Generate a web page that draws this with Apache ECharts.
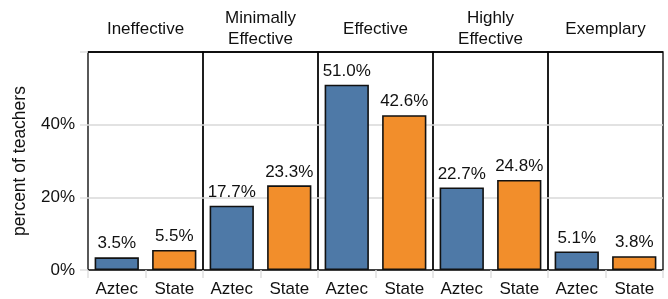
<!DOCTYPE html>
<html><head><meta charset="utf-8">
<script src="https://cdn.jsdelivr.net/npm/echarts@6/dist/echarts.min.js"></script>
<style>html,body{margin:0;padding:0;background:#fff}#c{width:668px;height:299px}</style>
</head><body><div id="c"></div>
<script>
const facets = ['Ineffective', 'Minimally\nEffective', 'Effective', 'Highly\nEffective', 'Exemplary'];
const groups = ['Aztec', 'State'];
const aztec = [3.5, 17.7, 51.0, 22.7, 5.1];
const state = [5.5, 23.3, 42.6, 24.8, 3.8];
const yTicks = [0, 20, 40, 60];
const yLabels = ['0%', '20%', '40%', ''];

const FONT = 'Liberation Sans';
const FS = 17;
const colors = ['#4E79A7', '#F28E2B'];
const left0 = 88, right0 = 663, top0 = 52, bottom0 = 270;
const fw = (right0 - left0) / facets.length;
const yMax = yTicks[yTicks.length - 1];

const grids = [], xAxes = [], yAxes = [], series = [], graphics = [];
facets.forEach((f, i) => {
  grids.push({left: left0 + i * fw, width: fw, top: top0, height: bottom0 - top0,
    show: true, borderColor: '#000', borderWidth: 1.3, backgroundColor: 'transparent'});
  xAxes.push({type: 'category', gridIndex: i, data: groups,
    axisLine: {show: false},
    axisTick: {show: true, length: 8, lineStyle: {color: '#e0e0e0', width: 1.5}},
    axisLabel: {color: '#111', fontFamily: FONT, fontSize: FS, margin: 11}});
  yAxes.push({type: 'value', gridIndex: i, min: 0, max: yMax, interval: 20,
    axisLine: {show: false},
    axisTick: {show: i === 0, length: 8, lineStyle: {color: '#e0e0e0', width: 1.5}},
    axisLabel: {show: i === 0, color: '#111', fontFamily: FONT, fontSize: FS, margin: 13,
      formatter: v => yLabels[yTicks.indexOf(v)] || ''},
    splitLine: {show: true, showMinLine: false, showMaxLine: false,
      lineStyle: {color: '#d9d9d9', width: 1.5}},
    name: i === 0 ? 'percent of teachers' : '', nameLocation: 'middle', nameGap: 59,
    nameTextStyle: {color: '#111', fontFamily: FONT, fontSize: 17.5}});
  series.push({type: 'bar', xAxisIndex: i, yAxisIndex: i, barWidth: '77%',
    data: [aztec[i], state[i]].map((v, j) => ({value: v, itemStyle: {color: colors[j]}})),
    itemStyle: {borderColor: '#111', borderWidth: 1.6},
    label: {show: true, position: 'top', distance: 5, color: '#111', fontFamily: FONT, fontSize: FS,
      formatter: p => p.value.toFixed(1) + '%'},
    markLine: {silent: true, symbol: 'none', animation: false,
      data: [{yAxis: yMax}],
      lineStyle: {color: '#000', width: 1.5, type: 'solid'},
      label: {show: false}}});
  graphics.push({type: 'text', x: left0 + (i + 0.5) * fw, y: 29,
    style: {text: f, align: 'center', verticalAlign: 'middle', fill: '#111',
      font: FS + 'px "' + FONT + '"', lineHeight: 21}});
});

const chart = echarts.init(document.getElementById('c'), null, {renderer: 'canvas'});
chart.setOption({animation: false, grid: grids, xAxis: xAxes, yAxis: yAxes, series: series, graphic: graphics});
</script></body></html>
